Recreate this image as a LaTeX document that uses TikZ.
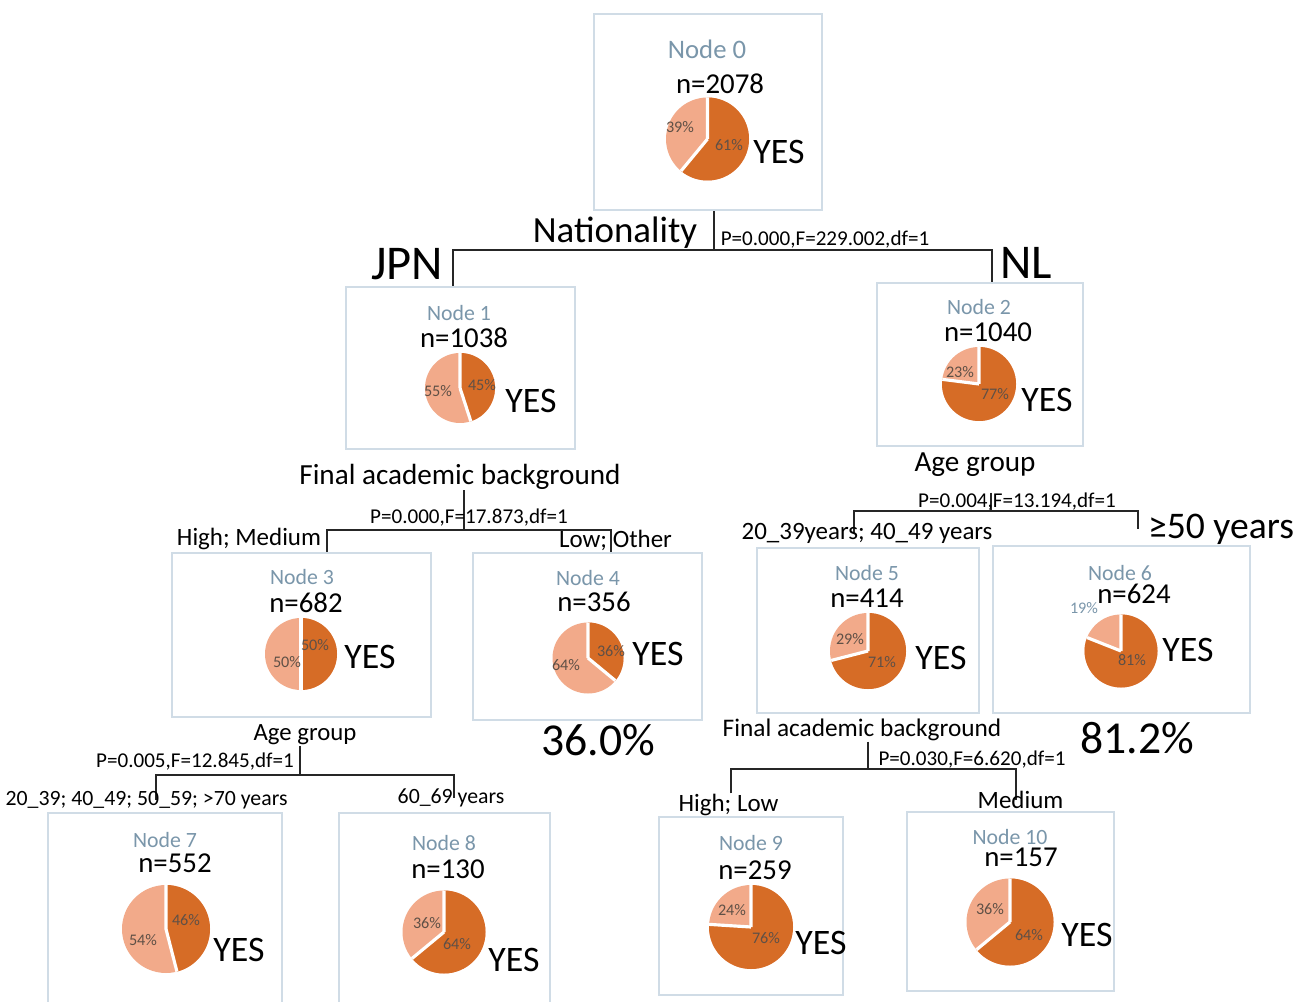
\documentclass[tikz,border=0pt]{standalone}
\usepackage{fontspec}
\setmainfont{Carlito}
\usepackage{tikz}
\pgfdeclarelayer{bg}
\pgfsetlayers{bg,main}
\definecolor{yescol}{RGB}{214,108,38}
\definecolor{nocol}{RGB}{242,170,138}
\definecolor{boxcol}{RGB}{208,220,230}
\definecolor{ttlcol}{RGB}{122,150,170}
\definecolor{pctcol}{RGB}{95,80,70}
\newcommand{\yespie}[3]{%
  \fill[nocol] (#1) circle[radius=#2];
  \fill[yescol] (#1) -- ++(90:#2) arc[start angle=90, end angle={90-3.6*#3}, radius=#2] -- cycle;
  \draw[white, line width=0.9pt] (#1) -- ++(90:#2) (#1) -- ++({90-3.6*#3}:#2);
}

\begin{document}
\begin{tikzpicture}[
  box/.style={draw=boxcol, fill=white, line width=0.7pt},
  ttl/.style={text=ttlcol, inner sep=0pt, font=\fontsize{6.2}{7}\selectfont},
  cnt/.style={inner sep=0pt, font=\fontsize{8.2}{9}\selectfont},
  pct/.style={text=pctcol, inner sep=0pt, font=\fontsize{4.6}{5}\selectfont},
  yes/.style={inner sep=0pt, font=\fontsize{10.2}{11}\selectfont},
  var/.style={inner sep=0pt, font=\fontsize{8.3}{9}\selectfont},
  stat/.style={inner sep=0pt, font=\fontsize{6}{7}\selectfont},
  cat/.style={inner sep=0pt, font=\fontsize{7.1}{8}\selectfont},
  big/.style={inner sep=0pt, font=\fontsize{13}{14}\selectfont},
  branch/.style={draw=black!85, line width=0.65pt}
]
        \useasboundingbox (0cm, 0cm) rectangle (12.99cm, -10.02cm);

        % Node 0
        \node (n0) [box, minimum width=2.28cm, minimum height=1.96cm] at (7.08cm, -1.12cm) {};
        \node (t0) [ttl, font=\fontsize{7.6}{9}\selectfont] at (7.07cm, -0.49cm) {Node 0};
        \node (k0) [cnt] at (7.20cm, -0.84cm) {n=2078};
        \coordinate (c0) at (7.075cm, -1.39cm);
        \yespie{c0}{0.415cm}{61}
        \node (pn0) [pct] at (6.80cm, -1.27cm) {39\%};
        \node (py0) [pct] at (7.29cm, -1.45cm) {61\%};
        \node (ys0) [yes] at (7.79cm, -1.52cm) {YES};

        % Node 1
        \node (n1) [box, minimum width=2.29cm, minimum height=1.62cm] at (4.605cm, -3.68cm) {};
        \node (t1) [ttl] at (4.59cm, -3.13cm) {Node 1};
        \node (k1) [cnt] at (4.64cm, -3.38cm) {n=1038};
        \coordinate (c1) at (4.60cm, -3.88cm);
        \yespie{c1}{0.35cm}{45}
        \node (pn1) [pct] at (4.38cm, -3.91cm) {55\%};
        \node (py1) [pct] at (4.82cm, -3.85cm) {45\%};
        \node (ys1) [yes] at (5.31cm, -4.01cm) {YES};

        % Node 2
        \node (n2) [box, minimum width=2.06cm, minimum height=1.63cm] at (9.80cm, -3.645cm) {};
        \node (t2) [ttl] at (9.79cm, -3.07cm) {Node 2};
        \node (k2) [cnt] at (9.88cm, -3.32cm) {n=1040};
        \coordinate (c2) at (9.79cm, -3.84cm);
        \yespie{c2}{0.37cm}{77}
        \node (pn2) [pct] at (9.60cm, -3.72cm) {23\%};
        \node (py2) [pct] at (9.95cm, -3.94cm) {77\%};
        \node (ys2) [yes] at (10.47cm, -4.00cm) {YES};

        % Node 3
        \node (n3) [box, minimum width=2.59cm, minimum height=1.64cm] at (3.015cm, -6.35cm) {};
        \node (t3) [ttl] at (3.02cm, -5.77cm) {Node 3};
        \node (k3) [cnt] at (3.06cm, -6.03cm) {n=682};
        \coordinate (c3) at (3.01cm, -6.54cm);
        \yespie{c3}{0.36cm}{50}
        \node (pn3) [pct] at (2.87cm, -6.62cm) {50\%};
        \node (py3) [pct] at (3.15cm, -6.45cm) {50\%};
        \node (ys3) [yes] at (3.70cm, -6.57cm) {YES};

        % Node 4
        \node (n4) [box, minimum width=2.29cm, minimum height=1.67cm] at (5.875cm, -6.365cm) {};
        \node (t4) [ttl] at (5.88cm, -5.78cm) {Node 4};
        \node (k4) [cnt] at (5.94cm, -6.02cm) {n=356};
        \coordinate (c4) at (5.88cm, -6.58cm);
        \yespie{c4}{0.355cm}{36}
        \node (pn4) [pct] at (5.66cm, -6.65cm) {64\%};
        \node (py4) [pct] at (6.11cm, -6.51cm) {36\%};
        \node (ys4) [yes] at (6.58cm, -6.54cm) {YES};
        \node (r4) [big] at (5.98cm, -7.40cm) {36.0\%};

        % Node 5
        \node (n5) [box, minimum width=2.22cm, minimum height=1.65cm] at (8.68cm, -6.305cm) {};
        \node (t5) [ttl] at (8.67cm, -5.73cm) {Node 5};
        \node (k5) [cnt] at (8.67cm, -5.98cm) {n=414};
        \coordinate (c5) at (8.68cm, -6.51cm);
        \yespie{c5}{0.38cm}{71}
        \node (pn5) [pct] at (8.50cm, -6.39cm) {29\%};
        \node (py5) [pct] at (8.82cm, -6.62cm) {71\%};
        \node (ys5) [yes] at (9.41cm, -6.58cm) {YES};

        % Node 6
        \node (n6) [box, minimum width=2.57cm, minimum height=1.67cm] at (11.215cm, -6.295cm) {};
        \node (t6) [ttl] at (11.20cm, -5.73cm) {Node 6};
        \node (k6) [cnt] at (11.34cm, -5.94cm) {n=624};
        \coordinate (c6) at (11.21cm, -6.51cm);
        \yespie{c6}{0.365cm}{81}
        \node (pn6) [pct, text=ttlcol] at (10.84cm, -6.08cm) {19\%};
        \node (py6) [pct] at (11.32cm, -6.60cm) {81\%};
        \node (ys6) [yes] at (11.88cm, -6.50cm) {YES};
        \node (r6) [big] at (11.37cm, -7.38cm) {81.2\%};

        % Node 7
        \node (n7) [box, minimum width=2.34cm, minimum height=1.97cm] at (1.65cm, -9.115cm) {};
        \node (t7) [ttl] at (1.65cm, -8.40cm) {Node 7};
        \node (k7) [cnt] at (1.75cm, -8.63cm) {n=552};
        \coordinate (c7) at (1.66cm, -9.29cm);
        \yespie{c7}{0.44cm}{46}
        \node (pn7) [pct] at (1.43cm, -9.40cm) {54\%};
        \node (py7) [pct] at (1.86cm, -9.20cm) {46\%};
        \node (ys7) [yes] at (2.39cm, -9.50cm) {YES};

        % Node 8
        \node (n8) [box, minimum width=2.11cm, minimum height=1.97cm] at (4.445cm, -9.115cm) {};
        \node (t8) [ttl] at (4.44cm, -8.43cm) {Node 8};
        \node (k8) [cnt] at (4.48cm, -8.69cm) {n=130};
        \coordinate (c8) at (4.44cm, -9.32cm);
        \yespie{c8}{0.415cm}{64}
        \node (pn8) [pct] at (4.27cm, -9.23cm) {36\%};
        \node (py8) [pct] at (4.57cm, -9.44cm) {64\%};
        \node (ys8) [yes] at (5.14cm, -9.60cm) {YES};

        % Node 9
        \node (n9) [box, minimum width=1.84cm, minimum height=1.78cm] at (7.51cm, -9.06cm) {};
        \node (t9) [ttl] at (7.51cm, -8.43cm) {Node 9};
        \node (k9) [cnt] at (7.55cm, -8.70cm) {n=259};
        \coordinate (c9) at (7.51cm, -9.27cm);
        \yespie{c9}{0.42cm}{76}
        \node (pn9) [pct] at (7.32cm, -9.10cm) {24\%};
        \node (py9) [pct] at (7.66cm, -9.38cm) {76\%};
        \node (ys9) [yes] at (8.21cm, -9.43cm) {YES};

        % Node 10
        \node (n10) [box, minimum width=2.07cm, minimum height=1.79cm] at (10.105cm, -9.015cm) {};
        \node (t10) [ttl] at (10.10cm, -8.37cm) {Node 10};
        \node (k10) [cnt] at (10.21cm, -8.57cm) {n=157};
        \coordinate (c10) at (10.10cm, -9.22cm);
        \yespie{c10}{0.435cm}{64}
        \node (pn10) [pct] at (9.90cm, -9.09cm) {36\%};
        \node (py10) [pct] at (10.29cm, -9.35cm) {64\%};
        \node (ys10) [yes] at (10.87cm, -9.35cm) {YES};

        % splits
        \node (q0) [var, font=\fontsize{10.5}{12}\selectfont] at (6.15cm, -2.33cm) {Nationality};
        \node (s0) [stat] at (8.25cm, -2.40cm) {P=0.000,F=229.002,df=1};
        \node (l1) [cat, font=\fontsize{13.8}{15}\selectfont] at (4.07cm, -2.64cm) {JPN};
        \node (l2) [cat, font=\fontsize{13.8}{15}\selectfont] at (10.26cm, -2.63cm) {NL};
        \coordinate (j0) at (7.14cm, -2.50cm);
        \coordinate (e1) at (4.53cm, -2.50cm);
        \coordinate (e2) at (9.92cm, -2.50cm);

        \node (q1) [var] at (4.60cm, -4.77cm) {Final academic background};
        \node (s1) [stat] at (4.69cm, -5.18cm) {P=0.000,F=17.873,df=1};
        \node (l3) [cat] at (2.49cm, -5.39cm) {High; Medium};
        \node (l4) [cat] at (6.155cm, -5.40cm) {Low; Other};
        \coordinate (j1) at (4.64cm, -5.30cm);
        \coordinate (e3) at (3.27cm, -5.30cm);
        \coordinate (e4) at (6.11cm, -5.30cm);

        \node (q2) [var] at (9.75cm, -4.65cm) {Age group};
        \node (s2) [stat] at (10.17cm, -5.02cm) {P=0.004,F=13.194,df=1};
        \node (l5) [cat] at (8.67cm, -5.33cm) {20\_39years; 40\_49 years};
        \node (l6) [cat, font=\fontsize{10.7}{12}\selectfont] at (12.21cm, -5.29cm) {≥50 years};
        \coordinate (j2) at (9.91cm, -5.11cm);
        \coordinate (e5) at (8.54cm, -5.11cm);
        \coordinate (e6) at (11.38cm, -5.11cm);

        \node (q3) [var, font=\fontsize{7.05}{8}\selectfont] at (3.05cm, -7.35cm) {Age group};
        \node (s3) [stat] at (1.95cm, -7.62cm) {P=0.005,F=12.845,df=1};
        \node (l7) [cat, font=\fontsize{6.2}{7}\selectfont] at (1.465cm, -8.00cm) {20\_39; 40\_49; 50\_59; >70 years};
        \node (l8) [cat, font=\fontsize{6.2}{7}\selectfont] at (4.51cm, -7.98cm) {60\_69 years};
        \coordinate (j3) at (3.00cm, -7.75cm);
        \coordinate (e7) at (1.56cm, -7.75cm);
        \coordinate (e8) at (4.54cm, -7.75cm);

        \node (q5) [var, font=\fontsize{7.2}{8}\selectfont] at (8.62cm, -7.30cm) {Final academic background};
        \node (s5) [stat] at (9.72cm, -7.60cm) {P=0.030,F=6.620,df=1};
        \node (l9) [cat] at (7.285cm, -8.05cm) {High; Low};
        \node (l10) [cat] at (10.205cm, -8.00cm) {Medium};
        \coordinate (j5) at (8.68cm, -7.69cm);
        \coordinate (e9) at (7.31cm, -7.69cm);
        \coordinate (e10) at (10.16cm, -7.69cm);

        \begin{pgfonlayer}{bg}
                \draw [branch] (n0.south -| j0) -- (j0);
                \draw [branch] (e1 |- n1.north) -- (e1) -- (e2) -- (e2 |- n2.north);
                \draw [branch] (q1.south -| j1) -- (j1);
                \draw [branch] (e3 |- n3.north) -- (e3) -- (e4) -- (e4 |- n4.north);
                \draw [branch] (s2.north -| j2) -- (j2);
                \draw [branch] (e5 |- l5.center) -- (e5) -- (e6) -- (e6 |- l6.center);
                \draw [branch] (q3.south -| j3) -- (j3);
                \draw [branch] (e7 |- l7.center) -- (e7) -- (e8) -- (e8 |- l8.center);
                \draw [branch] (q5.south -| j5) -- (j5);
                \draw [branch] (e9 |- l9.north) -- (e9) -- (e10) -- (e10 |- l10.center);
        \end{pgfonlayer}
\end{tikzpicture}
\end{document}
